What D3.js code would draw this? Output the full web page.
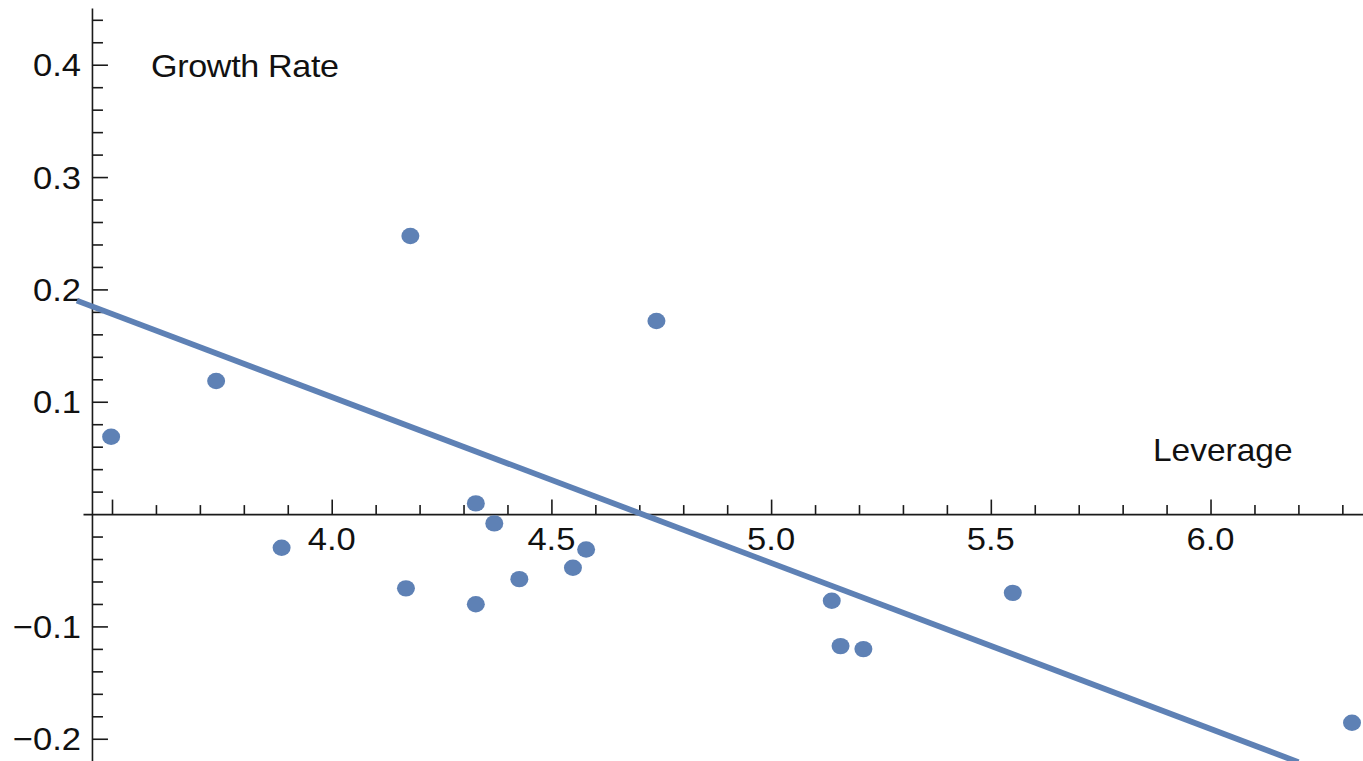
<!DOCTYPE html>
<html>
<head>
<meta charset="utf-8">
<script src="https://cdn.jsdelivr.net/npm/d3@7"></script>
<style>
  html, body { margin: 0; padding: 0; background: #fff; }
  svg { display: block; }
  text { font-family: "Liberation Sans", Arial, sans-serif; fill: #111; }
</style>
</head>
<body>
<svg id="chart" width="1363" height="761"></svg>
<script>
// ---- data ----
const leverage = [3.498, 3.737, 3.886, 4.169, 4.179, 4.328, 4.328, 4.370, 4.427, 4.549, 4.579, 4.739, 5.138, 5.158, 5.210, 5.550, 6.322];
const growth   = [0.0688, 0.1184, -0.0300, -0.0661, 0.2475, 0.0095, -0.0802, -0.0083, -0.0579, -0.0478, -0.0315, 0.1719, -0.0772, -0.1175, -0.1202, -0.0701, -0.1858];
const fitLeverage = [3.42, 6.20];
const fitGrowth   = [0.190, -0.2208];
const xMajorTicks = [3.5, 4.0, 4.5, 5.0, 5.5, 6.0];
const xTickLabels = ["", "4.0", "4.5", "5.0", "5.5", "6.0"];
const yMajorTicks = [0.4, 0.3, 0.2, 0.1, 0, -0.1, -0.2];
const yTickLabels = ["0.4", "0.3", "0.2", "0.1", "", "\u22120.1", "\u22120.2"];
const xLabel = "Leverage";
const yLabel = "Growth Rate";
const xDomain = [3.434, 6.347];
const yDomain = [-0.2198, 0.4505];
const originX = 3.4544;
const originY = 0;

const W = 1363, H = 761;
const color = "#5e81b5";
const axisColor = "#1a1a1a";
const stretch = 1.08;

const svg = d3.select("#chart");
const x = d3.scaleLinear().domain(xDomain).range([83, W]);
const y = d3.scaleLinear().domain(yDomain).range([H, 8]);

// minor tick values
const xMinor = d3.range(35, 64).map(d => d / 10).filter(v => !xMajorTicks.some(m => Math.abs(m - v) < 1e-9));
const yMinor = d3.range(-10, 23).map(d => d / 50).filter(v => !yMajorTicks.some(m => Math.abs(m - v) < 1e-9));

// ---- x axis (ticks pointing up) ----
const gx = svg.append("g").attr("transform", `translate(0,${y(originY)})`);
gx.call(d3.axisTop(x).tickValues(xMinor).tickSize(9).tickSizeOuter(0).tickFormat(""));
gx.append("g").call(d3.axisTop(x).tickValues(xMajorTicks).tickSize(14.5).tickSizeOuter(0).tickFormat(""))
  .select(".domain").remove();
gx.selectAll("path, line").attr("stroke", axisColor).attr("stroke-width", 1.6);

// ---- y axis (ticks pointing right) ----
const gy = svg.append("g").attr("transform", `translate(${x(originX)},0)`);
gy.call(d3.axisRight(y).tickValues(yMinor).tickSize(11).tickSizeOuter(0).tickFormat(""));
gy.append("g").call(d3.axisRight(y).tickValues(yMajorTicks.filter(v => v !== 0)).tickSize(16).tickSizeOuter(0).tickFormat(""))
  .select(".domain").remove();
gy.selectAll("path, line").attr("stroke", axisColor).attr("stroke-width", 1.6);

// ---- tick labels ----
const labelSize = 32;
xMajorTicks.forEach((v, i) => {
  if (!xTickLabels[i]) return;
  svg.append("g")
    .attr("transform", `translate(${x(v)},${y(originY) + 36}) scale(${stretch},1)`)
    .append("text").attr("text-anchor", "middle").attr("font-size", labelSize)
    .text(xTickLabels[i]);
});
yMajorTicks.forEach((v, i) => {
  if (!yTickLabels[i]) return;
  svg.append("g")
    .attr("transform", `translate(${x(originX) - 11},${y(v) + 11.5}) scale(${stretch},1)`)
    .append("text").attr("text-anchor", "end").attr("font-size", labelSize)
    .text(yTickLabels[i]);
});

// ---- axis titles ----
svg.append("g")
  .attr("transform", `translate(151,77) scale(1.1,1)`)
  .append("text").attr("font-size", 31).attr("letter-spacing", -0.3).text(yLabel);
svg.append("g")
  .attr("transform", `translate(1153,461) scale(1.08,1)`)
  .append("text").attr("font-size", 31).text(xLabel);

// ---- fit line ----
const fitPts = fitLeverage.map((v, i) => [v, fitGrowth[i]]);
svg.append("path")
  .datum(fitPts)
  .attr("d", d3.line().x(d => x(d[0])).y(d => y(d[1])))
  .attr("fill", "none")
  .attr("stroke", color)
  .attr("stroke-width", 5.8);

// ---- points ----
svg.append("g").selectAll("ellipse")
  .data(leverage.map((v, i) => [v, growth[i]]))
  .join("ellipse")
  .attr("cx", d => x(d[0]))
  .attr("cy", d => y(d[1]))
  .attr("rx", 9)
  .attr("ry", 8.2)
  .attr("fill", color);
</script>
</body>
</html>
